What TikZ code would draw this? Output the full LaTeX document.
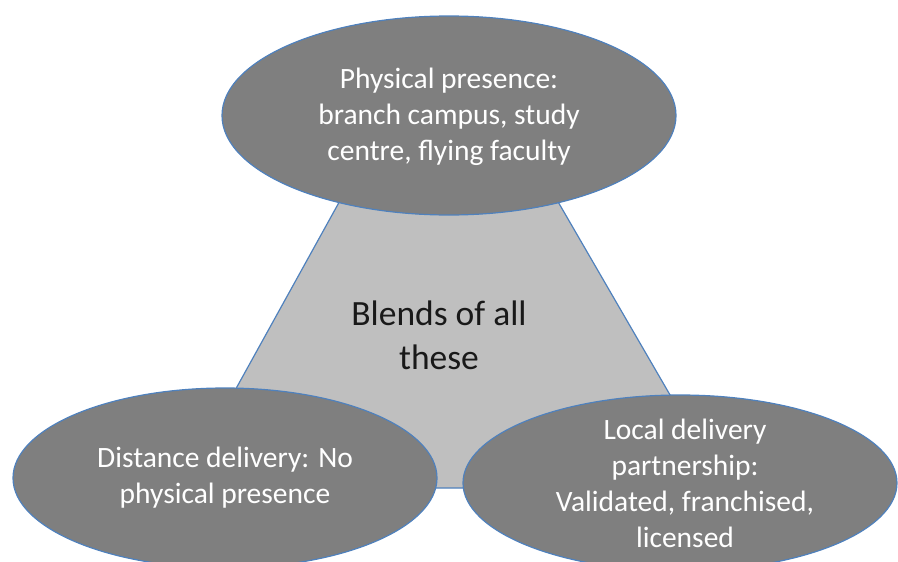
\documentclass[tikz,border=0pt]{standalone}
\usepackage{fontspec}
\setmainfont{Carlito}
\usetikzlibrary{shapes.geometric}
\definecolor{edgeblue}{HTML}{4F81BD}
\definecolor{darkfill}{HTML}{7F7F7F}
\definecolor{lightfill}{HTML}{BFBFBF}
\tikzset{
  oval/.style={ellipse, draw=edgeblue, line width=1.2pt, fill=darkfill, inner sep=0pt},
  ovaltext/.style={text=white, align=center, font=\fontsize{29.5}{36}\selectfont},
  midtext/.style={text=black!90, align=center, font=\fontsize{35.5}{44}\selectfont},
}
\begin{document}
\begin{tikzpicture}[x=1pt,y=-1pt]
\useasboundingbox (0,0) rectangle (898,562);
\begin{scope}
\clip (0,0) rectangle (898,562);
\coordinate (tl) at (368,150);
\coordinate (tr) at (528,150);
\coordinate (bl) at (181,488);
\coordinate (br) at (724,488);
\draw[draw=edgeblue, line width=1.2pt, fill=lightfill] (tl) -- (bl) -- (br) -- (tr) -- cycle;
\node[midtext] (blend) at (439,335) {Blends of all\\these};
\node[oval, minimum width=454pt, minimum height=199pt] (top) at (449,115.5) {};
\node[ovaltext] (toptext) at (449,117) {Physical presence:\\branch campus, study\\centre, flying faculty};
\node[oval, minimum width=424pt, minimum height=180pt] (left) at (225,478) {};
\node[ovaltext] (lefttext) at (225,478) {Distance delivery: No\\physical presence};
\node[oval, minimum width=434pt, minimum height=176pt] (right) at (680,483) {};
\node[ovaltext] (righttext) at (685,483) {Local delivery\\partnership:\\Validated, franchised,\\licensed};
\end{scope}
\end{tikzpicture}
\end{document}
